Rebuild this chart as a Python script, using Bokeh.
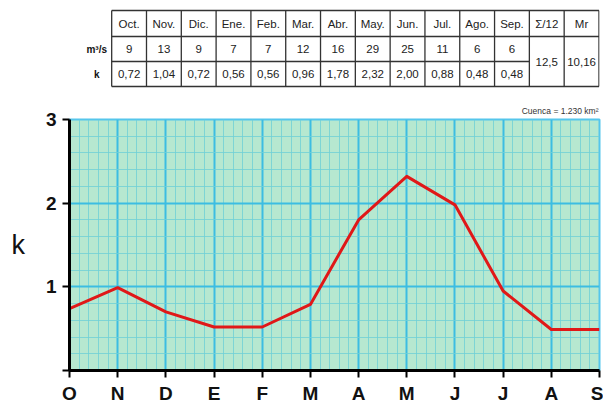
from bokeh.plotting import figure
from bokeh.layouts import column
from bokeh.models import Range1d, FixedTicker, ColumnDataSource
from bokeh.embed import file_html
from bokeh.resources import INLINE
from bokeh.core.properties import value

# ---------------- data ----------------
month_letters = ["O", "N", "D", "E", "F", "M", "A", "M", "J", "J", "A", "S"]
k_plotted = [0.74, 0.99, 0.70, 0.52, 0.52, 0.79, 1.80, 2.32, 1.98, 0.95, 0.49, 0.49]
table_months = ["Oct.", "Nov.", "Dic.", "Ene.", "Feb.", "Mar.", "Abr.", "May.",
                "Jun.", "Jul.", "Ago.", "Sep."]
flow_m3s = ["9", "13", "9", "7", "7", "12", "16", "29", "25", "11", "6", "6"]
k_table = ["0,72", "1,04", "0,72", "0,56", "0,56", "0,96", "1,78", "2,32",
           "2,00", "0,88", "0,48", "0,48"]
mean_label, mean_value = "Σ/12", "12,5"
mr_label, mr_value = "Mr", "10,16"
row_labels = ["m³/s", "k"]
y_ticks = [0, 1, 2, 3]
basin_note = "Cuenca = 1.230 km²"

FONT = value("Liberation Sans")
W, H = 603, 406
H1 = 96  # table strip height

# ---------------- table figure (canvas coords, y down) ----------------
tab = figure(width=W, height=H1, x_range=Range1d(0, W), y_range=Range1d(H1, 0),
             output_backend="svg", toolbar_location=None,
             x_axis_location=None, y_axis_location=None, min_border=0,
             outline_line_color=None)
tab.grid.visible = False

x0, cw = 48, 39.6
rows_y = [10, 36, 61, 86]
n = len(table_months)
ncol = n + 2
xe = [x0 + cw * i for i in range(ncol + 1)]

hx0, hx1, hy = [], [], []
for j, yy in enumerate(rows_y):
    hx0.append(xe[0])
    hx1.append(xe[n] if j == 2 else xe[-1])
    hy.append(yy)
tab.segment(x0=hx0, x1=hx1, y0=hy, y1=hy, line_color="#333333", line_width=1.3)
tab.segment(x0=xe, x1=xe, y0=[rows_y[0]] * len(xe), y1=[rows_y[-1]] * len(xe),
            line_color="#333333", line_width=1.3)

centers = [x0 + cw * (i + 0.5) for i in range(ncol)]
ym = [(rows_y[i] + rows_y[i + 1]) / 2 for i in range(3)]
hdr = table_months + [mean_label, mr_label]
TS = "11.5px"
tab.text(x=centers, y=[ym[0]] * ncol, text=hdr, text_align="center",
         text_baseline="middle", text_font=FONT, text_font_size=TS, text_color="#222222")
tab.text(x=centers[:n], y=[ym[1]] * n, text=flow_m3s, text_align="center",
         text_baseline="middle", text_font=FONT, text_font_size=TS, text_color="#222222")
tab.text(x=centers[:n], y=[ym[2]] * n, text=k_table, text_align="center",
         text_baseline="middle", text_font=FONT, text_font_size=TS, text_color="#222222")
tab.text(x=centers[n:], y=[rows_y[2]] * 2, text=[mean_value, mr_value], text_align="center",
         text_baseline="middle", text_font=FONT, text_font_size=TS, text_color="#222222")
tab.text(x=[31, 31], y=[ym[1], ym[2]], text=row_labels, text_align="center",
         text_baseline="middle", text_font=FONT, text_font_size="10px",
         text_font_style="bold", text_color="#111111")

# ---------------- chart figure ----------------
p = figure(width=W, height=H - H1, x_range=Range1d(0, len(month_letters) - 1),
           y_range=Range1d(0, 3), output_backend="svg", toolbar_location=None,
           min_border_left=69, min_border_right=4, min_border_top=119 - H1,
           min_border_bottom=30,
           background_fill_color="#b6e8d0", outline_line_color="#55c6ec",
           outline_line_width=2)

p.title.text = basin_note
p.title.align = "right"
p.title.text_font = "Liberation Sans"
p.title.text_font_size = "8.5px"
p.title.text_font_style = "normal"
p.title.text_color = "#333333"
p.title.standoff = 7
p.title.offset = 1

xt = FixedTicker(ticks=list(range(len(month_letters))),
                 minor_ticks=[i * 0.2 for i in range(5 * (len(month_letters) - 1) + 1)])
yt = FixedTicker(ticks=y_ticks, minor_ticks=[i * 0.2 for i in range(16)])
p.xaxis.ticker = xt
p.yaxis.ticker = yt
p.xgrid.ticker = xt
p.ygrid.ticker = yt

p.grid.grid_line_color = "#3cbde2"
p.grid.grid_line_width = 2
p.grid.grid_line_alpha = 1
p.grid.minor_grid_line_color = "#6fcfd6"
p.grid.minor_grid_line_width = 1
p.grid.minor_grid_line_alpha = 0.8

p.xaxis.major_label_overrides = {i: m for i, m in enumerate(month_letters)}
p.yaxis.major_label_overrides = {0: "", 1: "1", 2: "2", 3: "3"}

p.axis.axis_line_color = "black"
p.axis.axis_line_width = 3
p.axis.major_tick_line_color = "black"
p.axis.major_tick_line_width = 2
p.axis.major_tick_out = 7
p.axis.major_tick_in = 0
p.axis.minor_tick_line_color = None
p.axis.major_label_text_font = "Liberation Sans"
p.axis.major_label_text_font_style = "bold"
p.axis.major_label_text_font_size = "19px"
p.axis.major_label_text_color = "#111111"
p.xaxis.major_label_standoff = 5
p.yaxis.major_label_standoff = 6

p.yaxis.axis_label = "k"
p.yaxis.axis_label_text_font = "Liberation Sans"
p.yaxis.axis_label_text_font_style = "normal"
p.yaxis.axis_label_text_font_size = "27px"
p.yaxis.axis_label_text_color = "#111111"
p.yaxis.axis_label_standoff = 18
try:
    p.yaxis.axis_label_orientation = "horizontal"
except Exception:
    pass

src = ColumnDataSource(dict(x=list(range(len(month_letters))), k=k_plotted))
p.line("x", "k", source=src, line_color="#e01818", line_width=3, line_join="round")

layout = column(tab, p, spacing=0)
open("out.html", "w").write(file_html(layout, INLINE))
